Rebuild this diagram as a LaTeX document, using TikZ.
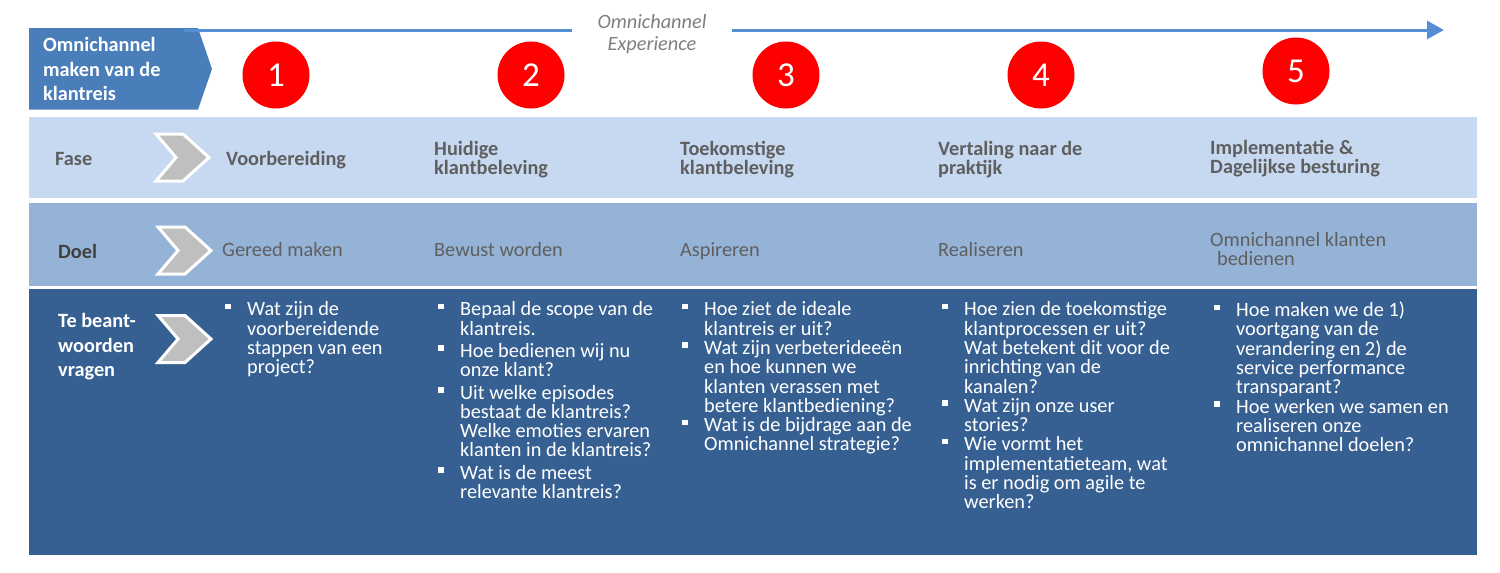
\documentclass[tikz,border=0pt]{standalone}
\usepackage{fontspec}
\setmainfont{Carlito}
\usetikzlibrary{positioning,arrows.meta}

\definecolor{fasekleur}{HTML}{C6D9F1}
\definecolor{doelkleur}{HTML}{95B3D7}
\definecolor{vraagkleur}{HTML}{376092}
\definecolor{omnikleur}{HTML}{4A7EBB}
\definecolor{lijnkleur}{HTML}{558ED5}
\definecolor{grijs}{HTML}{5F5F5F}
\definecolor{donkergrijs}{HTML}{404040}
\definecolor{midgrijs}{HTML}{7F7F7F}
\definecolor{chevrongrijs}{HTML}{BFBFBF}

\newcommand{\blok}{\llap{\raisebox{6.5pt}{\rule{5.5pt}{5.5pt}}\hspace{16.5pt}}}

\tikzset{chevron/.pic={
    \draw[pijlvorm] (-27,-23.5) -- (0,-23.5) -- (26,0) -- (0,23.5) -- (-27,23.5) -- (-7,0) -- cycle;}}

\begin{document}
\begin{tikzpicture}[x=1pt,y=-1pt,
		rij/.style={rectangle,inner sep=0pt,minimum width=1448pt,anchor=north west},
		tekst/.style={anchor=north west,inner sep=0pt,align=left,execute at begin node=\strut},
		label/.style={tekst,font=\bfseries\fontsize{20.3}{24.5}\selectfont},
		kop/.style={tekst,text=grijs,font=\bfseries\fontsize{20.3}{19}\selectfont},
		doel/.style={tekst,text=grijs,font=\fontsize{20.3}{19}\selectfont},
		vraag/.style={tekst,text=white,font=\fontsize{20.3}{19.3}\selectfont},
		nummer/.style={circle,fill=red,text=white,minimum size=67pt,inner sep=0pt,font=\fontsize{35}{35}\selectfont},
		pijlvorm/.style={draw=white,line width=3pt,fill=chevrongrijs,line join=miter},
		lijn/.style={draw=lijnkleur,line width=3pt}]
		\useasboundingbox (0,0) rectangle (1500,573);
		% rijen
		\node[rij,fill=fasekleur,minimum height=81pt] (fase) at (29,117) {};
		\node[rij,fill=doelkleur,minimum height=83pt] (doel) at (29,203) {};
		\node[rij,fill=vraagkleur,minimum height=266pt] (vragen) at (29,289) {};
		% omnichannel pijl bovenaan
		\fill[omnikleur] (29,28) -- (198,28) -- (212,69) -- (198,109.5) -- (29,109.5) -- cycle;
		\node[label,text=white] (omni) at (43,37.5) {Omnichannel\\maken van de\\klantreis};
		\coordinate (start) at (184,30);
		\coordinate (eind) at (1444,30);
		\node[anchor=north,inner xsep=25pt,inner ysep=0pt,align=center,text=midgrijs,execute at begin node=\strut,font=\itshape\fontsize{20.3}{22}\selectfont] (ervaring) at (652,14.3) {Omnichannel\\Experience};
		\draw[lijn] (start) -- (start -| ervaring.west);
		\draw[lijn,-{Triangle[length=17pt,width=18pt]}] (eind -| ervaring.east) -- (eind);
		% nummers
		\foreach \n/\x/\y in {1/276/75,2/531/75,3/786/75,4/1041/75,5/1296/71}
			\node[nummer] (c\n) at (\x,\y) {\n};
		% labels links
		\node[label,text=grijs] (faselabel) at (55,148.2) {Fase};
		\node[label,text=donkergrijs] (doellabel) at (58,240.7) {Doel};
		\node[label,text=white] (vragenlabel) at (58,313.5) {Te beant-\\woorden\\vragen};
		\pic at (183,157.5) {chevron};
		\pic at (185,250.5) {chevron};
		\pic at (185,339) {chevron};
		% fase
		\node[kop] (kop1) at (226,150.7) {Voorbereiding};
		\node[kop] (kop2) at (434,140.7) {Huidige\\klantbeleving};
		\node[kop] (kop3) at (680,140.7) {Toekomstige\\klantbeleving};
		\node[kop] (kop4) at (938,140.7) {Vertaling naar de\\praktijk};
		\node[kop] (kop5) at (1210,139.7) {Implementatie \&\\Dagelijkse besturing};
		% doel
		\node[doel] (doel1) at (222,242.7) {Gereed maken};
		\node[doel] (doel2) at (434,242.7) {Bewust worden};
		\node[doel] (doel3) at (680,242.7) {Aspireren};
		\node[doel] (doel4) at (938,242.7) {Realiseren};
		\node[doel] (doel5) at (1210,232.7) {Omnichannel klanten\\\hspace{7pt}bedienen};
		% vragen
		\node[vraag] (vraag1) at (247,301.5) {\blok Wat zijn de\\voorbereidende\\stappen van een\\project?};
		\node[vraag] (vraag2) at (460,301.5) {\blok Bepaal de scope van de\\klantreis.\\[3pt]\blok Hoe bedienen wij nu\\onze klant?\\[3pt]\blok Uit welke episodes\\bestaat de klantreis?\\Welke emoties ervaren\\klanten in de klantreis?\\[3pt]\blok Wat is de meest\\relevante klantreis?};
		\node[vraag] (vraag3) at (704,301.5) {\blok Hoe ziet de ideale\\klantreis er uit?\\\blok Wat zijn verbeterideeën\\en hoe kunnen we\\klanten verassen met\\betere klantbediening?\\\blok Wat is de bijdrage aan de\\Omnichannel strategie?};
		\node[vraag] (vraag4) at (964,301.5) {\blok Hoe zien de toekomstige\\klantprocessen er uit?\\Wat betekent dit voor de\\inrichting van de\\kanalen?\\\blok Wat zijn onze user\\stories?\\\blok Wie vormt het\\implementatieteam, wat\\is er nodig om agile te\\werken?};
		\node[vraag] (vraag5) at (1236,301.5) {\blok Hoe maken we de 1)\\voortgang van de\\verandering en 2) de\\service performance\\transparant?\\\blok Hoe werken we samen en\\realiseren onze\\omnichannel doelen?};
\end{tikzpicture}
\end{document}
